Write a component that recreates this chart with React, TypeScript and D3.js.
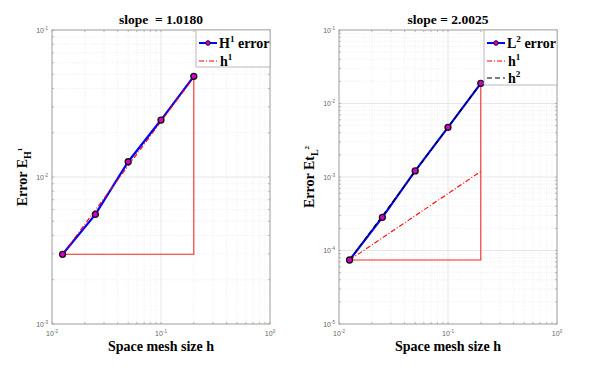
import * as d3 from 'd3';

const meshH = [0.0125, 0.025, 0.05, 0.1, 0.2];
const errH1 = [0.00298, 0.00557, 0.0127, 0.0244, 0.0484];
const errL2 = [7.43e-5, 0.000283, 0.00121, 0.00474, 0.0188];

const refEnds = [0.0125, 0.2];
const refH1Left = [0.00298, 0.0477];
const refH1Right = [7.43e-5, 1.19e-3];
const refH2Right = [7.43e-5, 0.019];

const xDecades = [-2, -1, 0];
const yDecadesLeft = [-3, -2, -1];
const yDecadesRight = [-5, -4, -3, -2, -1];

const SERIF = '"Liberation Serif", "Times New Roman", serif';
const RED = '#ee2a2a';

type Ref = { values: number[]; color: string; dash: string; label: string };

// base text, raised exponent, optional trailing text back on the baseline
function supText(base: string, exp: string, size: number, tail = '') {
  const rise = size * 0.4;
  return (
    <>
      <tspan>{base}</tspan>
      <tspan dy={-rise} fontSize={size * 0.65}>{exp}</tspan>
      {tail && <tspan dy={rise}>{tail}</tspan>}
    </>
  );
}

function Panel({
  left, top, width, height, yDomain, yDecades, errors, errLabel, refs, title, yLabelBase, yLabelSub, yLabelExp, legendW,
}: {
  left: number; top: number; width: number; height: number;
  yDomain: [number, number]; yDecades: number[]; errors: number[]; errLabel: string;
  refs: Ref[]; title: string; yLabelBase: string; yLabelSub: string; yLabelExp: string; legendW: number;
}) {
  const x = d3.scaleLog().domain([1e-2, 1]).range([left, left + width]);
  const y = d3.scaleLog().domain(yDomain).range([top + height, top]);

  const minorX: number[] = [];
  xDecades.slice(0, -1).forEach((d) => {
    for (let k = 2; k <= 9; k++) minorX.push(k * Math.pow(10, d));
  });
  const minorY: number[] = [];
  yDecades.slice(0, -1).forEach((d) => {
    for (let k = 2; k <= 9; k++) minorY.push(k * Math.pow(10, d));
  });

  const line = d3.line<[number, number]>().x((d) => x(d[0])).y((d) => y(d[1]));
  const pts: [number, number][] = meshH.map((h, i) => [h, errors[i]]);
  const base = refs[0].values[0];
  const topVal = refs[refs.length - 1].values[1];
  const legendH = 19 + refs.length * 18;
  const lx = left + width - legendW;

  return (
    <g>
      <rect x={left} y={top} width={width} height={height} fill="#fff" />
      {minorX.map((v, i) => (
        <line key={`mx${i}`} x1={x(v)} x2={x(v)} y1={top} y2={top + height} stroke="#e4e4e4" strokeWidth={0.6} strokeDasharray="1,1.5" />
      ))}
      {minorY.map((v, i) => (
        <line key={`my${i}`} x1={left} x2={left + width} y1={y(v)} y2={y(v)} stroke="#e4e4e4" strokeWidth={0.6} strokeDasharray="1,1.5" />
      ))}
      {xDecades.map((d) => (
        <line key={`gx${d}`} x1={x(Math.pow(10, d))} x2={x(Math.pow(10, d))} y1={top} y2={top + height} stroke="#dcdcdc" strokeWidth={0.7} />
      ))}
      {yDecades.map((d) => (
        <line key={`gy${d}`} x1={left} x2={left + width} y1={y(Math.pow(10, d))} y2={y(Math.pow(10, d))} stroke="#dcdcdc" strokeWidth={0.7} />
      ))}
      {/* ticks */}
      {minorX.concat(xDecades.map((d) => Math.pow(10, d))).map((v, i) => (
        <g key={`tx${i}`} stroke="#9a9a9a" strokeWidth={0.7}>
          <line x1={x(v)} x2={x(v)} y1={top + height} y2={top + height - 2} />
          <line x1={x(v)} x2={x(v)} y1={top} y2={top + 2} />
        </g>
      ))}
      {minorY.concat(yDecades.map((d) => Math.pow(10, d))).map((v, i) => (
        <g key={`ty${i}`} stroke="#9a9a9a" strokeWidth={0.7}>
          <line x1={left} x2={left + 2} y1={y(v)} y2={y(v)} />
          <line x1={left + width} x2={left + width - 2} y1={y(v)} y2={y(v)} />
        </g>
      ))}
      <rect x={left} y={top} width={width} height={height} fill="none" stroke="#a8a8a8" strokeWidth={1} />

      {/* tick labels */}
      {xDecades.map((d) => (
        <text key={`lx${d}`} x={x(Math.pow(10, d))} y={top + height + 12} textAnchor="middle" fontSize={7} fill="#666" fontFamily="Arial, sans-serif">
          {supText('10', String(d), 7)}
        </text>
      ))}
      {yDecades.map((d) => (
        <text key={`ly${d}`} x={left - 4} y={y(Math.pow(10, d)) + 2.5} textAnchor="end" fontSize={7} fill="#666" fontFamily="Arial, sans-serif">
          {supText('10', String(d), 7)}
        </text>
      ))}

      {/* slope triangle */}
      <path
        d={`M${x(refEnds[0])},${y(base)}L${x(refEnds[1])},${y(base)}L${x(refEnds[1])},${y(topVal)}`}
        fill="none" stroke={RED} strokeWidth={1.1}
      />

      {/* data */}
      <path d={line(pts) || ''} fill="none" stroke="#0000ff" strokeWidth={2.2} />
      {refs.map((r, i) => (
        <path
          key={`r${i}`}
          d={line([[refEnds[0], r.values[0]], [refEnds[1], r.values[1]]]) || ''}
          fill="none" stroke={r.color} strokeWidth={1.1} strokeDasharray={r.dash}
        />
      ))}
      {pts.map((p, i) => (
        <circle key={`c${i}`} cx={x(p[0])} cy={y(p[1])} r={3} fill="#d400c8" stroke="#111" strokeWidth={1.3} />
      ))}

      {/* legend */}
      <rect x={lx} y={top} width={legendW} height={legendH} fill="#fff" stroke="#a8a8a8" strokeWidth={0.8} />
      <g fontFamily={SERIF} fontWeight="bold" fontSize={14}>
        <line x1={lx + 3} x2={lx + 21} y1={top + 13} y2={top + 13} stroke="#0000ff" strokeWidth={2} />
        <circle cx={lx + 12} cy={top + 13} r={2.3} fill="#d400c8" stroke="#111" strokeWidth={1} />
        <text x={lx + 23} y={top + 18}>
          {supText(errLabel, errLabel === 'H' ? '1' : '2', 14, ' error')}
        </text>
        {refs.map((r, i) => (
          <g key={`lg${i}`}>
            <line x1={lx + 3} x2={lx + 21} y1={top + 31 + i * 17} y2={top + 31 + i * 17} stroke={r.color} strokeWidth={1.1} strokeDasharray={r.dash} />
            <text x={lx + 24} y={top + 36 + i * 17}>
              {supText('h', r.label, 14)}
            </text>
          </g>
        ))}
      </g>

      {/* title & labels */}
      <text x={left + width / 2} y={top - 6} textAnchor="middle" fontFamily={SERIF} fontWeight="bold" fontSize={13.5}>
        {title}
      </text>
      <text x={left + width / 2} y={top + height + 27} textAnchor="middle" fontFamily={SERIF} fontWeight="bold" fontSize={14}>
        Space mesh size h
      </text>
      <text
        transform={`translate(${left - 25},${top + height / 2}) rotate(-90)`}
        textAnchor="middle" fontFamily={SERIF} fontWeight="bold" fontSize={14}
      >
        <tspan>{yLabelBase}</tspan>
        <tspan dy={4} fontSize={10}>{yLabelSub}</tspan>
        <tspan dy={-9} fontSize={7}>{yLabelExp}</tspan>
      </text>
    </g>
  );
}

export default function App() {
  return (
    <svg width={596} height={368} style={{ position: 'absolute', left: 0, top: 0, background: '#fff' }}>
      <rect width={596} height={368} fill="#fff" />
      <Panel
        left={52} top={30} width={218} height={294}
        yDomain={[1e-3, 1e-1]} yDecades={yDecadesLeft}
        errors={errH1} errLabel="H"
        refs={[{ values: refH1Left, color: '#ff0000', dash: '5,2,1,2', label: '1' }]}
        title={'slope\u00a0 = 1.0180'} yLabelBase="Error E" yLabelSub="H" yLabelExp="1" legendW={74}
      />
      <Panel
        left={339} top={30} width={218} height={294}
        yDomain={[1e-5, 1e-1]} yDecades={yDecadesRight}
        errors={errL2} errLabel="L"
        refs={[
          { values: refH1Right, color: '#ff0000', dash: '5,2,1,2', label: '1' },
          { values: refH2Right, color: '#000', dash: '5,3', label: '2' },
        ]}
        title="slope = 2.0025" yLabelBase="Error Et" yLabelSub="L" yLabelExp="2" legendW={73}
      />
    </svg>
  );
}
